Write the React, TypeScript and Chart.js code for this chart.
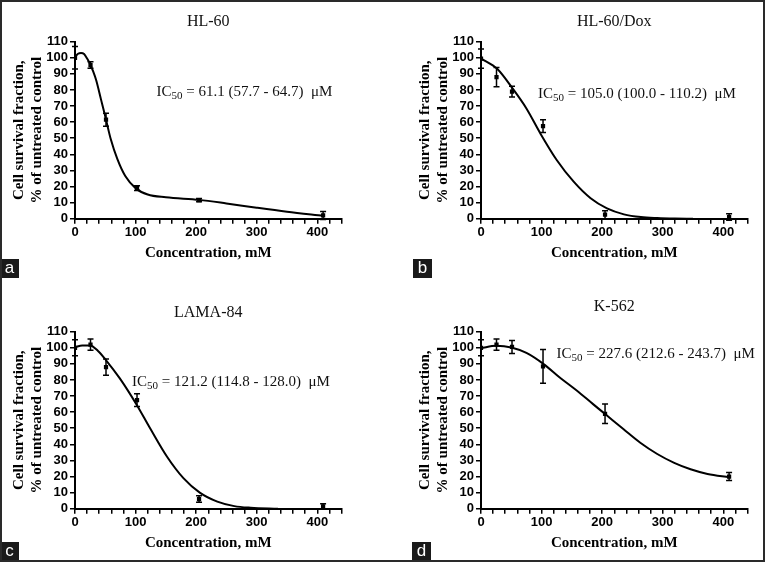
import React, { useEffect, useRef } from "react";
import { Chart, registerables } from "chart.js";

Chart.register(...registerables);

// ---------- data ----------
const concentrations = [0, 25.6, 51.2, 102.4, 204.8, 409.6];

const hl60Means = [100, 95.5, 61.5, 19, 11.6, 2];
const hl60Errs = [7, 2, 4, 1.5, 1, 2.5];
const hl60CurveX = [0, 5, 10, 15, 20, 25, 30, 35, 43, 50, 59, 70, 83, 100, 120, 150, 205, 250, 300, 350, 410];
const hl60CurveY = [100.5, 102.5, 103, 102.3, 99.5, 96, 91.5, 86, 74, 63.5, 49.5, 37, 26.5, 19, 15, 13.3, 11.7, 9.5, 6.8, 4.3, 1.8];

const doxMeans = [99.5, 88, 79, 57.5, 2.5, 1];
const doxErrs = [6, 6, 3.3, 4, 2.5, 2];
const doxCurveX = [0, 27, 52, 75, 98, 125, 153, 181, 208, 236, 264, 291, 320, 350];
const doxCurveY = [99.5, 93, 81, 68.5, 53, 36.5, 23, 12.7, 6.4, 2.7, 1, 0.4, 0.1, 0];

const lamaMeans = [100, 102, 88, 67.5, 6, 1.5];
const lamaErrs = [5, 3.5, 5, 4, 2, 1.5];
const lamaCurveX = [0, 12, 25, 38, 51, 74, 102, 124, 152, 179, 206, 235, 263, 290, 335];
const lamaCurveY = [100.4, 101.5, 101.5, 98, 92.4, 81, 64.5, 50, 32.3, 19, 10, 4.4, 1.6, 0.6, 0];

const k562Means = [100, 102, 100.5, 88.5, 59, 20];
const k562Errs = [5, 3.5, 4, 10.5, 6, 2.5];
const k562CurveX = [0, 25, 50, 75, 104, 130, 158, 185, 206, 235, 263, 291, 319, 346, 374, 410];
const k562CurveY = [99.8, 101.2, 100.2, 96.8, 89.7, 81.5, 73.5, 65, 58.5, 49.5, 41, 34, 28.5, 24.5, 21.6, 19.5];

const titles = ["HL-60", "HL-60/Dox", "LAMA-84", "K-562"];
const ic50Texts = [
  " = 61.1 (57.7 - 64.7)  \u03bcM",
  " = 105.0 (100.0 - 110.2)  \u03bcM",
  " = 121.2 (114.8 - 128.0)  \u03bcM",
  " = 227.6 (212.6 - 243.7)  \u03bcM",
];
const letters = ["a", "b", "c", "d"];
const yTitle = ["Cell survival fraction,", "% of untreated control"];
const xTitle = "Concentration, mM";

// ---------- layout ----------
const panels = [
  { title: titles[0], ic: ic50Texts[0], means: hl60Means, errs: hl60Errs, cx: hl60CurveX, cy: hl60CurveY,
    left: 0, top: 0, width: 406, height: 281, areaTop: 41.7, areaRight: 341.5, titleY: 21.7, icX: 156.5, icY: 96 },
  { title: titles[1], ic: ic50Texts[1], means: doxMeans, errs: doxErrs, cx: doxCurveX, cy: doxCurveY,
    left: 406, top: 0, width: 359, height: 281, areaTop: 41.7, areaRight: 341.5, titleY: 22, icX: 132, icY: 97.5 },
  { title: titles[2], ic: ic50Texts[2], means: lamaMeans, errs: lamaErrs, cx: lamaCurveX, cy: lamaCurveY,
    left: 0, top: 281, width: 406, height: 281, areaTop: 50.7, areaRight: 341.5, titleY: 32, icX: 132, icY: 105 },
  { title: titles[3], ic: ic50Texts[3], means: k562Means, errs: k562Errs, cx: k562CurveX, cy: k562CurveY,
    left: 406, top: 281, width: 359, height: 281, areaTop: 50.7, areaRight: 341.5, titleY: 26, icX: 150.5, icY: 77 },
];

const letterBoxes = [
  { left: 0, top: 259 },
  { left: 413, top: 259 },
  { left: 0, top: 542 },
  { left: 412, top: 542 },
];

const SERIF = '"Liberation Serif", "Times New Roman", serif';
const SANS = '"Liberation Sans", Arial, sans-serif';
const X_SCALE_H = 45;
const AREA_BOTTOM_TOP = 218.7;
const AREA_BOTTOM_BOTTOM = 227.7;

function PanelChart({ p, idx }: { p: any; idx: number }) {
  const ref = useRef<HTMLCanvasElement>(null);
  useEffect(() => {
    const canvas = ref.current!;
    const areaBottom = idx < 2 ? AREA_BOTTOM_TOP : AREA_BOTTOM_BOTTOM;
    const padBottom = p.height - areaBottom - X_SCALE_H;
    const padRight = p.width - p.areaRight;

    const decor = {
      id: "decor" + idx,
      afterDatasetsDraw(chart: any) {
        const ctx = chart.ctx;
        const xs = chart.scales.x;
        const ys = chart.scales.y;
        ctx.save();
        ctx.strokeStyle = "#000";
        ctx.lineWidth = 1.5;
        concentrations.forEach((c, i) => {
          const px = xs.getPixelForValue(c);
          const y1 = ys.getPixelForValue(p.means[i] + p.errs[i]);
          const y2 = ys.getPixelForValue(p.means[i] - p.errs[i]);
          ctx.beginPath();
          ctx.moveTo(px, y1);
          ctx.lineTo(px, y2);
          ctx.moveTo(px - 3, y1);
          ctx.lineTo(px + 3, y1);
          ctx.moveTo(px - 3, y2);
          ctx.lineTo(px + 3, y2);
          ctx.stroke();
        });
        ctx.restore();
      },
      afterDraw(chart: any) {
        const ctx = chart.ctx;
        const ca = chart.chartArea;
        ctx.save();
        ctx.fillStyle = "#111";
        ctx.font = `16px ${SERIF}`;
        ctx.textAlign = "center";
        ctx.textBaseline = "middle";
        ctx.fillText(p.title, (ca.left + ca.right) / 2, p.titleY);

        ctx.textAlign = "left";
        ctx.textBaseline = "alphabetic";
        let x = p.icX;
        ctx.font = `15px ${SERIF}`;
        ctx.fillText("IC", x, p.icY);
        x += ctx.measureText("IC").width;
        ctx.font = `11px ${SERIF}`;
        ctx.fillText("50", x, p.icY + 3);
        x += ctx.measureText("50").width;
        ctx.font = `15px ${SERIF}`;
        ctx.fillText(p.ic, x, p.icY);
        ctx.restore();
      },
    };

    const tickFont = { family: SANS, size: 13, weight: "bold" as const };
    const titleFont = { family: SERIF, size: 15, weight: "bold" as const, lineHeight: 1.2 };

    const chart = new Chart(canvas, {
      type: "scatter",
      data: {
        datasets: [
          {
            type: "line",
            data: p.cx.map((x: number, i: number) => ({ x, y: p.cy[i] })),
            borderColor: "#000",
            borderWidth: 2,
            pointRadius: 0,
            cubicInterpolationMode: "monotone",
            fill: false,
          } as any,
          {
            type: "scatter",
            data: concentrations.map((x, i) => ({ x, y: p.means[i] })),
            pointStyle: "rect",
            pointRadius: 3,
            backgroundColor: "#000",
            borderColor: "#000",
            borderWidth: 0,
          } as any,
        ],
      },
      options: {
        responsive: false,
        animation: false,
        devicePixelRatio: 1,
        layout: { padding: { left: 0, top: p.areaTop, right: padRight, bottom: padBottom } },
        plugins: { legend: { display: false }, tooltip: { enabled: false }, title: { display: false } },
        scales: {
          x: {
            type: "linear",
            position: "bottom",
            min: 0,
            max: 440,
            afterFit: (s: any) => { s.height = X_SCALE_H; },
            grid: { display: true, drawOnChartArea: false, drawTicks: true, tickLength: 5, color: "#000", lineWidth: 1.5 },
            border: { display: true, color: "#000", width: 2 },
            ticks: {
              stepSize: 20,
              autoSkip: false,
              maxRotation: 0,
              padding: 1,
              color: "#000",
              font: tickFont,
              callback: (v: any) => (Number(v) % 100 === 0 ? String(v) : ""),
            },
            title: { display: true, text: xTitle, color: "#000", font: titleFont, padding: { top: 0, bottom: 1.7 } },
          },
          y: {
            type: "linear",
            min: 0,
            max: 110,
            afterFit: (s: any) => { s.width = 75; },
            grid: { display: true, drawOnChartArea: false, drawTicks: true, tickLength: 5, color: "#000", lineWidth: 1.5 },
            border: { display: true, color: "#000", width: 2 },
            ticks: { stepSize: 10, autoSkip: false, padding: 2, color: "#000", font: tickFont },
            title: { display: true, text: yTitle, color: "#000", font: titleFont, padding: { top: 10, bottom: 0 } },
          },
        },
      },
      plugins: [decor],
    } as any);
    return () => chart.destroy();
  }, []);
  return (
    <canvas
      ref={ref}
      width={p.width}
      height={p.height}
      style={{ position: "absolute", left: p.left, top: p.top, width: p.width, height: p.height }}
    />
  );
}

export default function App() {
  return (
    <div style={{ position: "fixed", left: 0, top: 0, width: 765, height: 562, background: "#fff", overflow: "hidden" }}>
      {panels.map((p, i) => (
        <PanelChart key={i} p={p} idx={i} />
      ))}
      {letterBoxes.map((b, i) => (
        <div
          key={"l" + i}
          style={{
            position: "absolute",
            left: b.left,
            top: b.top,
            width: 19,
            height: 19,
            background: "#1a1a1a",
            color: "#fff",
            fontFamily: SANS,
            fontSize: 17,
            lineHeight: "18px",
            textAlign: "center",
          }}
        >
          {letters[i]}
        </div>
      ))}
      <div
        style={{
          position: "absolute",
          left: 0,
          top: 0,
          width: 765,
          height: 562,
          boxSizing: "border-box",
          border: "2px solid #2a2a2a",
          pointerEvents: "none",
        }}
      />
    </div>
  );
}
